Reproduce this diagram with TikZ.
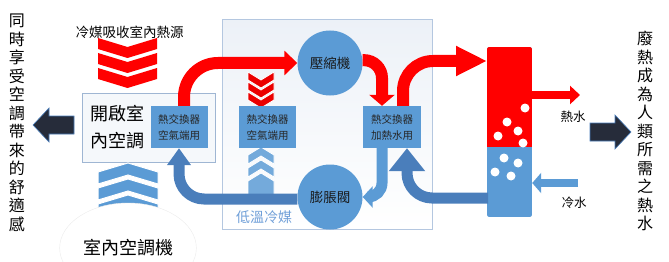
\documentclass[tikz,border=0pt]{standalone}
\usepackage{fontspec}
\newfontfamily\cjk{Noto Sans CJK TC}
\usetikzlibrary{positioning, arrows.meta, shapes.geometric, calc}

\definecolor{hotred}{HTML}{FF0000}
\definecolor{hxblue}{HTML}{5B9BD5}
\definecolor{pipeblue}{HTML}{4A7EBB}
\definecolor{navy}{HTML}{262C3A}
\definecolor{sysedge}{HTML}{B4C7E0}
\definecolor{roomedge}{HTML}{9FB6D3}
\definecolor{lowtext}{HTML}{6F9FD8}

\tikzset{
  hxbox/.style={
    fill=hxblue, inner sep=0pt, align=center,
    minimum width=57pt, minimum height=42pt,
    font=\cjk\fontsize{10.5}{16}\selectfont, text=black!85
  },
  device/.style={
    circle, fill=hxblue, inner sep=0pt, minimum size=65pt,
    font=\cjk\fontsize{13.5}{16}\selectfont, text=black!90
  },
  % pipes
  hotpipe/.style={draw=hotred, line width=12pt},
  returnpipe/.style={draw=pipeblue, line width=11pt},
  lightpipe/.style={draw=hxblue, line width=11pt},
  % labels
  vtext/.style={align=center, inner sep=0pt, font=\cjk\fontsize{16}{18.5}\selectfont},
  caption/.style={inner sep=0pt, font=\cjk\fontsize{13.5}{16}\selectfont},
}

% one chevron: #1 x, #2 y of the side edge, #3 width, #4 thickness, #5 drop, #6 style
\newcommand{\chevron}[6]{%
  \filldraw[#6] ({#1-#3/2},#2) -- ++({#3/2},#5) -- ++({#3/2},{-1*#5})
    -- ++(0,#4) -- ++({-#3/2},#5) -- ++({-#3/2},{-1*#5}) -- cycle;
}
% fat dark arrow: #1 name of tip, #2 start of shaft, #3 direction (1 or -1)
\newcommand{\fatarrow}[3]{%
  \begin{scope}[shift={(#2)}, xscale=#3]
    \filldraw[fill=navy, draw=pipeblue, line width=0.6pt]
      (0,-9) -- (25,-9) -- (25,-17) -- (41,0) -- (25,17) -- (25,9) -- (0,9) -- cycle;
    \coordinate (#1) at (41,0);
  \end{scope}
}

\begin{document}
\begin{tikzpicture}[x=1pt, y=-1pt]
  \useasboundingbox (0,0) rectangle (669,262);

  %% ── Frames ──
  \node[draw=sysedge, line width=1pt, top color=sysedge!25, bottom color=white,
        minimum width=210pt, minimum height=209pt] (sys) at (327,124.5) {};
  \node[draw=roomedge, fill=roomedge!10, minimum width=133pt, minimum height=69pt]
        (room) at (148.5,127.5) {};
  \node[align=left, inner sep=0pt, font=\cjk\fontsize{18}{27}\selectfont]
        (roomlbl) at (117,127) {開啟室\\內空調};

  %% ── Chevrons ──
  \foreach \k in {0,1,2}
    \chevron{127.5}{38+15*\k}{59}{11}{9}{fill=hotred, draw=none};
  \foreach \k in {0,1,2}
    \chevron{128}{184+16*\k}{60}{-12}{-9}{fill=hxblue, draw=white, line width=1pt};
  \foreach \k in {0,1,2}
    \chevron{261}{72+10*\k}{26}{8}{8}{fill=hotred!92!black, draw=white, line width=0.8pt};
  \filldraw[fill=hxblue!85!white, draw=white, line width=0.8pt]
    (248,195) -- (248,181) -- (261,173) -- (274,181) -- (274,195) -- cycle;
  \foreach \k in {0,1}
    \chevron{261}{164+13*\k}{26}{-9}{-8}{fill=hxblue!85!white, draw=white, line width=0.8pt};

  \node[ellipse, draw=black!8, fill=white, minimum width=132pt, minimum height=90pt,
        font=\cjk\fontsize{18}{20}\selectfont] (unit) at (128,248) {室內空調機};

  %% ── Heat exchangers, compressor, valve ──
  \node[hxbox] (hxL) at (179,127) {熱交換器\\空氣端用};
  \node[hxbox] (hxM) at (267.5,127) {熱交換器\\空氣端用};
  \node[hxbox, minimum width=58pt] (hxW) at (392,127) {熱交換器\\加熱水用};
  \node[device] (comp)  at (330,63)  {壓縮機};
  \node[device] (valve) at (330,197) {膨脹閥};

  %% ── Water tank ──
  \node[minimum width=45pt, minimum height=170pt, inner sep=0pt] (tank) at (509.5,132) {};
  \coordinate (tankmid) at (487,147);
  \begin{scope}
    \clip[rounded corners=3pt] (tank.north west) rectangle (tank.south east);
    \fill[hxblue] (tank.north west) rectangle (tank.south east);
    \fill[hotred] (tank.north west) rectangle (tankmid -| tank.east);
  \end{scope}
  \foreach \bx/\by in {525/108, 507/122, 518/131, 498/136, 523/143,
                       504/158, 518/163, 495/172, 511/176}
    \fill[white] (\bx,\by) circle (4.5pt);

  \coordinate (tankin)  at (487,61);
  \coordinate (tankret) at (488,198);
  \coordinate (hotout)  at (580,95);
  \coordinate (coldin)  at (578,183);

  %% ── Refrigerant loop ──
  \draw[hotpipe, rounded corners=34pt, -{Triangle[length=13pt, width=24pt]}]
    ([xshift=5pt]hxL.north) |- (comp.west);
  \draw[hotpipe, rounded corners=18pt, -{Triangle[length=11pt, width=25pt]}]
    (comp.5) -| ([xshift=-10pt]hxW.north);
  \draw[lightpipe, rounded corners=14pt, -{Triangle[length=10pt, width=21pt]}]
    ([xshift=-10pt]hxW.south) |- (valve.east);
  \draw[returnpipe, rounded corners=25pt, -{Triangle[length=17pt, width=23pt]}]
    ([yshift=-2pt]valve.west) -| (hxL.south);

  %% ── Water loop ──
  \draw[hotpipe, rounded corners=30pt, -{Triangle[length=31pt, width=28pt]}]
    ([xshift=11pt]hxW.north) |- (tankin);
  \draw[returnpipe, rounded corners=25pt, -{Triangle[length=23pt, width=35pt]}]
    (tankret) -| ([xshift=15pt]hxW.south);
  \draw[hotpipe, line width=8pt, -{Triangle[length=10pt, width=18pt]}]
    (tank.east |- hotout) -- (hotout);
  \draw[lightpipe, line width=8pt, -{Triangle[length=9pt, width=20pt]}]
    (coldin) -- (coldin -| tank.east);

  %% ── Labels ──
  \node[caption] (srcLbl) at (129.5,32) {冷媒吸收室內熱源};
  \node[caption, text=lowtext, font=\cjk\fontsize{14}{16}\selectfont] (lowLbl) at (264,217) {低溫冷媒};
  \node[caption, font=\cjk\fontsize{12.5}{14}\selectfont] (hotLbl)  at (573,117) {熱水};
  \node[caption, font=\cjk\fontsize{12.5}{14}\selectfont] (coldLbl) at (574,203) {冷水};

  \node[vtext] (leftMsg)  at (17,123)  {同\\時\\享\\受\\空\\調\\帶\\來\\的\\舒\\適\\感};
  \node[vtext] (rightMsg) at (645,131) {廢\\熱\\成\\為\\人\\類\\所\\需\\之\\熱\\水};

  %% ── Result arrows ──
  \fatarrow{comfort}{74,125}{-1}
  \fatarrow{hotuse}{590,132}{1}

\end{tikzpicture}
\end{document}
